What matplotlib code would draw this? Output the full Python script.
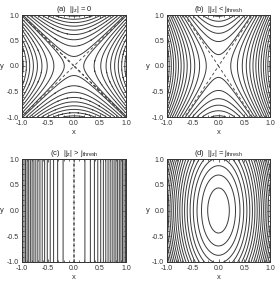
import numpy as np
import matplotlib
matplotlib.use("Agg")
import matplotlib.pyplot as plt
from matplotlib.ticker import MultipleLocator

plt.rcParams["font.family"] = ["Liberation Sans", "DejaVu Sans"]
plt.rcParams["mathtext.fontset"] = "custom"
plt.rcParams["mathtext.rm"] = "Liberation Sans"
plt.rcParams["mathtext.it"] = "Liberation Sans"

# ---- data / parameters ----
titles = [r"(a)  $|j_z|$ = 0",
          r"(b)  $|j_z|$ < $j_{\rm thresh}$",
          r"(c)  $|j_z|$ > $j_{\rm thresh}$",
          r"(d)  $|j_z|$ = $j_{\rm thresh}$"]
tick_vals = [-1.0, -0.5, 0.0, 0.5, 1.0]
tick_labels = ["-1.0", "-0.5", "0.0", "0.5", "1.0"]
# flux function psi = ax * x^2 + ay * y^2 for each panel
coef_x = [-1.0, -2.3, 1.0, 1.0]
coef_y = [1.0, 1.0, 0.0, 0.23]
# contour level spacing per panel
level_step = [0.115, 0.18, 0.055, 0.065]
level_offset = [0.035, 0.05, 0.044, 0.044]
# separatrix (dashed) present?
separatrix = [True, True, True, False]

line_color = "#3a3a3a"
dash_color = "#555555"

fig = plt.figure(figsize=(2.75, 2.82), dpi=100)
W, H = 275, 282
boxes = [(22, 15, 126, 117), (167, 15, 270, 117),
         (22, 159, 126, 262), (167, 159, 270, 262)]

x = np.linspace(-1, 1, 601)
X, Y = np.meshgrid(x, x)

for i, (l, t, r, b) in enumerate(boxes):
    ax = fig.add_axes([l / W, 1 - b / H, (r - l) / W, (b - t) / H])
    psi = coef_x[i] * X**2 + coef_y[i] * Y**2
    step = level_step[i]
    off = level_offset[i]
    pmax = psi.max()
    pmin = psi.min()
    levels = np.arange(off + np.floor((pmin - off) / step) * step,
                       pmax + 1e-9, step)
    levels = levels[np.abs(levels) > 1e-9]
    if i == 0:
        pos = np.arange(off, pmax + 1e-9, step)
        levels = np.sort(np.concatenate([-pos, pos]))
    ax.contour(X, Y, psi, levels=levels, colors=line_color, linewidths=0.7,
               linestyles="solid")
    if separatrix[i]:
        ax.contour(X, Y, psi, levels=[0.0], colors=dash_color, linewidths=0.7,
                   linestyles=[(0, (3, 2.5))])
    ax.set_xlim(-1, 1)
    ax.set_ylim(-1, 1)
    ax.set_xticks(tick_vals)
    ax.set_xticklabels(tick_labels)
    ax.set_yticks(tick_vals)
    ax.set_yticklabels(tick_labels)
    ax.xaxis.set_minor_locator(MultipleLocator(0.1))
    ax.yaxis.set_minor_locator(MultipleLocator(0.1))
    ax.tick_params(which="both", direction="in", top=True, right=True,
                   labelsize=5, width=0.5, colors="#333333")
    ax.tick_params(axis="x", which="major", pad=2.5)
    ax.tick_params(axis="y", which="major", pad=2.0)
    ax.tick_params(which="major", length=2.5)
    ax.tick_params(which="minor", length=1.2)
    for s in ax.spines.values():
        s.set_linewidth(0.7)
        s.set_color("#333333")
    ax.set_xlabel("x", fontsize=5.5, color="#333333", va="center")
    ax.set_ylabel("y", fontsize=5.5, rotation=0, va="center", ha="center",
                  color="#333333")
    ax.xaxis.set_label_coords(0.5, -0.155)
    ax.yaxis.set_label_coords(-0.19, 0.5)
    ax.set_title(titles[i], fontsize=5.5, pad=3, color="#222222")

fig.savefig("out.png", dpi=100)
